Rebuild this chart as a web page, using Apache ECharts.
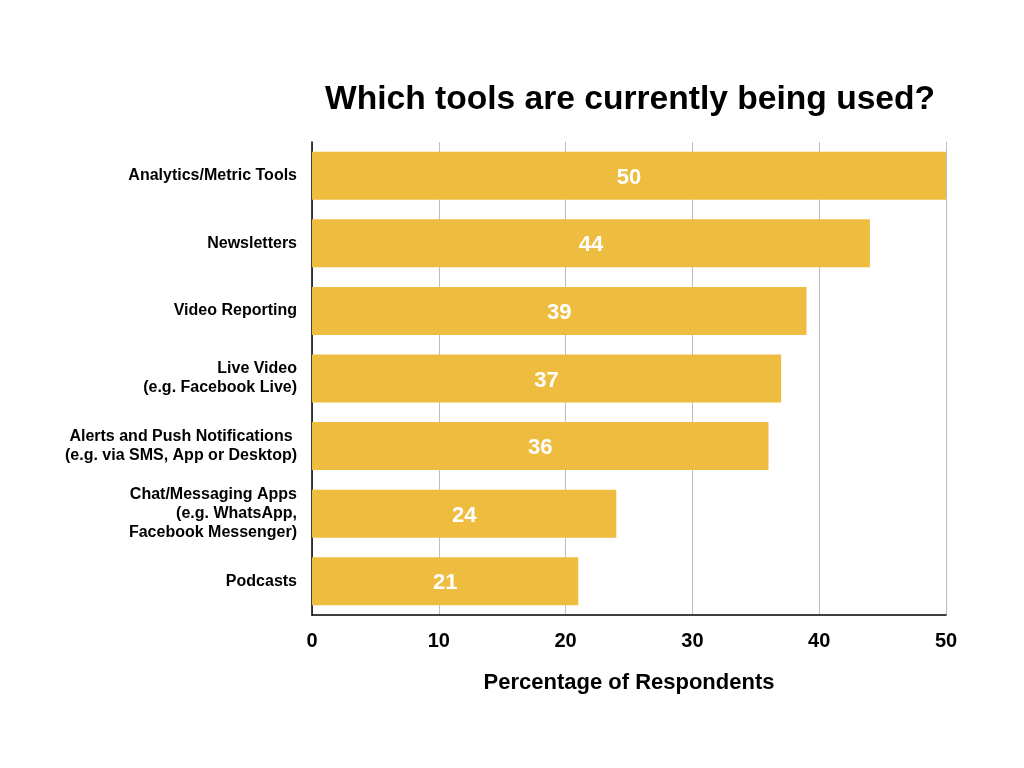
<!DOCTYPE html>
<html><head><meta charset="utf-8">
<script src="https://cdn.jsdelivr.net/npm/echarts@6/dist/echarts.min.js"></script>
<style>html,body{margin:0;padding:0;background:#fff}#c{width:1024px;height:768px}</style>
</head><body><div id="c"></div>
<script>
const categories = ["Analytics/Metric Tools","Newsletters","Video Reporting","Live Video\n(e.g. Facebook Live)","Alerts and Push Notifications \n(e.g. via SMS, App or Desktop)","Chat/Messaging Apps\n(e.g. WhatsApp,\nFacebook Messenger)","Podcasts"];
const values = [50,44,39,37,36,24,21];
const xTicks = [0,10,20,30,40,50];
const chart = echarts.init(document.getElementById('c'));
const F = '"Liberation Sans", Arial, Helvetica, sans-serif';
chart.setOption({
  animation:false,
  title:{text:'Which tools are currently being used?',left:625,top:78,textAlign:'center',
    textStyle:{fontFamily:F,fontWeight:'bold',fontSize:33.6,color:'#000'}},
  grid:{left:312,right:78,top:142,bottom:153,containLabel:false},
  xAxis:{type:'value',min:0,max:50,interval:10,
    name:'Percentage of Respondents',nameLocation:'middle',nameGap:57,
    nameTextStyle:{fontFamily:F,fontWeight:'bold',fontSize:22,color:'#000'},
    axisLine:{show:true,lineStyle:{color:'#000',width:1.5}},axisTick:{show:false},
    axisLabel:{fontFamily:F,fontWeight:'bold',fontSize:20,color:'#000',margin:16,
      formatter:v=>xTicks.includes(v)?String(v):''},
    splitLine:{show:true,lineStyle:{color:'#bdbdbd',width:1}}},
  yAxis:{type:'category',inverse:true,data:categories,
    axisLine:{show:true,lineStyle:{color:'#000',width:1.5}},axisTick:{show:false},
    axisLabel:{fontFamily:F,fontWeight:'bold',fontSize:16,color:'#000',margin:15,align:'right',lineHeight:19}},
  series:[{type:'bar',data:values,barCategoryGap:'29%',
    itemStyle:{color:'#EEBD40'},
    label:{show:true,position:'inside',offset:[0,2],fontFamily:F,fontWeight:'bold',fontSize:22,color:'#fff'}}]
});
</script></body></html>
